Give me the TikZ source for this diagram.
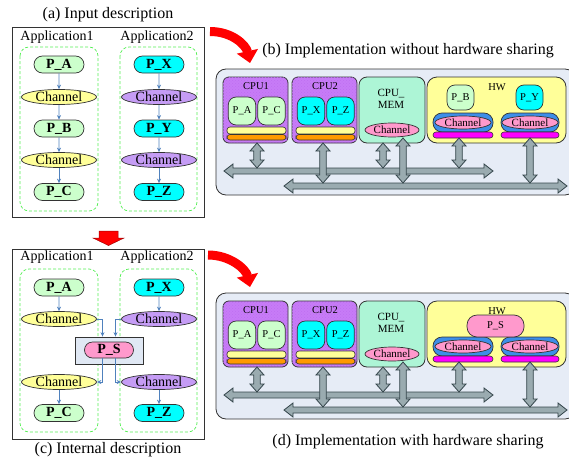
\documentclass[tikz,border=0pt]{standalone}
\usepackage{fontspec}
\setmainfont{Liberation Serif}
\usetikzlibrary{shapes.geometric,shapes.misc,arrows.meta,patterns}

\definecolor{edge}{HTML}{333333}
\definecolor{procG}{HTML}{CCFFCC}
\definecolor{procC}{HTML}{00FFFF}
\definecolor{chanY}{HTML}{FFFF99}
\definecolor{chanV}{HTML}{C59CF5}
\definecolor{chanP}{HTML}{FF99CC}
\definecolor{flowB}{HTML}{4F81BD}
\definecolor{appG}{HTML}{55EE55}
\definecolor{panelBg}{HTML}{E6ECF6}
\definecolor{psBg}{HTML}{E0E8F4}
\definecolor{cpuV}{HTML}{C77CF7}
\definecolor{cpuL}{HTML}{BF6EF2}
\definecolor{memG}{HTML}{ADF5D6}
\definecolor{hwY}{HTML}{FFFF99}
\definecolor{barY}{HTML}{FFFF99}
\definecolor{barO}{HTML}{FF9900}
\definecolor{barM}{HTML}{FF00FF}
\definecolor{ringB}{HTML}{3D8EE8}
\definecolor{busF}{HTML}{9AABB0}
\definecolor{busD}{HTML}{34454B}

\newcommand\setfs[1]{\fontsize{#1}{#1}\selectfont}

% horizontal double-headed bus: x-left, x-right, y
\newcommand\hbus[3]{\draw[bus] (#1,#3) -- (#1+9,#3-7) -- (#1+9,#3-3) -- (#2-9,#3-3) -- (#2-9,#3-7) -- (#2,#3)
  -- (#2-9,#3+7) -- (#2-9,#3+3) -- (#1+9,#3+3) -- (#1+9,#3+7) -- cycle;}
% vertical double-headed link: x, y-top, y-bottom
\newcommand\vbus[3]{\draw[bus] (#1,#2) -- (#1+7,#2+8) -- (#1+3.3,#2+8) -- (#1+3.3,#3-8) -- (#1+7,#3-8) -- (#1,#3)
  -- (#1-7,#3-8) -- (#1-3.3,#3-8) -- (#1-3.3,#2+8) -- (#1-7,#2+8) -- cycle;}

% channel in hardware: blue ring, pink channel, magenta bar
\newcommand\hwchan[3]{% name, x-centre, width
  \draw[ring] (#2-#3/2,113) rectangle (#2+#3/2,132);
  \node[smallchan] (#1) at (#2,122.5) {Channel};
  \draw[bar, fill=barM] (#2-#3/2,132) rectangle (#2+#3/2,138);}

% common platform: CPUs, memory, hardware block and buses
\newcommand\platform[1]{%
  \draw[board] (216,69) rectangle (575,195);
  % CPU1
  \draw[cpubox] (223,77) rectangle (288,143);
  \node[plabel] (#1-cpu1) at (256,86) {CPU1};
  \node[cell, fill=procG] (#1-pa) at (242,111) {P\_A};
  \node[cell, fill=procG] (#1-pc) at (271.5,111) {P\_C};
  \draw[bar, fill=barY] (227,127) rectangle (286,134);
  \draw[bar, fill=barO] (227,134.5) rectangle (286,140);
  % CPU2
  \draw[cpubox] (292,77) rectangle (357,143);
  \node[plabel] (#1-cpu2) at (325,86) {CPU2};
  \node[cell, fill=procC] (#1-px) at (311,111) {P\_X};
  \node[cell, fill=procC] (#1-pz) at (340.5,111) {P\_Z};
  \draw[bar, fill=barY] (296,127) rectangle (355,134);
  \draw[bar, fill=barO] (296,134.5) rectangle (355,140);
  % memory CPU
  \draw[membox] (359,77) rectangle (425,143);
  \node[plabel, align=center, font=\setfs{11}\linespread{1.1}\selectfont] (#1-mem) at (391,98.5) {CPU\_\\MEM};
  \node[smallchan, minimum width=54pt, minimum height=14pt] (#1-memch) at (392,130) {Channel};
  % hardware block
  \draw[hwbox] (427,77) rectangle (566,143);
  \node[plabel] (#1-hw) at (497,87) {HW};
  \hwchan{#1-ch1}{463}{60}
  \hwchan{#1-ch2}{530}{58}
  % buses and links
  \hbus{224}{493}{171}
  \hbus{284}{567}{186}
  \vbus{257}{143}{168}
  \vbus{323}{143}{183}
  \vbus{383}{143}{168}
  \vbus{403}{138}{183}
  \vbus{459}{138}{168}
  \vbus{530}{138}{183}
}

\begin{document}
\begin{tikzpicture}[x=1pt,y=-1pt,
  title/.style={font=\setfs{16}},
  applab/.style={font=\setfs{14}},
  proc/.style={rounded rectangle, draw=edge, line width=0.7pt, minimum width=50pt,
    minimum height=17pt, inner sep=0pt, font=\setfs{14}\bfseries},
  procA/.style={proc, fill=procG},
  procX/.style={proc, fill=procC},
  chan/.style={ellipse, draw=edge, line width=0.7pt, minimum width=75pt,
    minimum height=15pt, inner sep=0pt, font=\setfs{14}},
  chanA/.style={chan, fill=chanY},
  chanX/.style={chan, fill=chanV},
  flow/.style={draw=flowB, line width=0.8pt, -{Stealth[length=4.5pt,width=4pt]}},
  appbox/.style={draw=appG, dash pattern=on 3pt off 2pt, line width=0.7pt, rounded corners=9pt},
  panel/.style={draw=edge, line width=0.8pt},
  redarrow/.style={fill=red, draw=red!65!black, line width=0.5pt},
  bigbend/.style={draw=red, line width=9pt, -{Triangle[length=12pt,width=21pt]}},
  board/.style={fill=panelBg, draw=edge, line width=0.8pt, rounded corners=10pt},
  cpubox/.style={fill=cpuV, draw=edge, line width=0.8pt, rounded corners=6pt,
    postaction={pattern=crosshatch dots, pattern color=cpuL}},
  membox/.style={fill=memG, draw=edge, line width=0.8pt, rounded corners=8pt},
  hwbox/.style={fill=hwY, draw=edge, line width=0.8pt, rounded corners=10pt},
  plabel/.style={font=\setfs{10.5}},
  cell/.style={draw=edge, line width=0.7pt, rounded corners=8pt, minimum width=27.5pt,
    minimum height=28pt, inner sep=0pt, font=\setfs{10.5}},
  bar/.style={draw=edge, line width=0.6pt, rounded corners=3pt},
  ring/.style={fill=ringB, draw=edge, line width=0.7pt, rounded corners=9pt},
  smallchan/.style={ellipse, fill=chanP, draw=edge, line width=0.7pt, minimum width=56pt,
    minimum height=13pt, inner sep=0pt, font=\setfs{11}},
  bus/.style={fill=busF, draw=busD, line width=0.8pt, line join=miter}
]
\useasboundingbox (0,0) rectangle (569,460);
\clip (0,0) rectangle (569,460);

% ---------- (a) input description ----------
\node[title] (ttlA) at (108,15) {(a) Input description};
\draw[panel] (12,27) rectangle (204,217);
\draw[appbox] (20,47) rectangle (98,211);
\draw[appbox] (120,47) rectangle (197,211);
\node[applab] (a-app1) at (57,37) {Application1};
\node[applab] (a-app2) at (157,37) {Application2};
\node[procA] (a-pa) at (59,64.5) {P\_A};
\node[chanA] (a-c1) at (59,97) {Channel};
\node[procA] (a-pb) at (59,128.5) {P\_B};
\node[chanA] (a-c2) at (59,160) {Channel};
\node[procA] (a-pc) at (59,192) {P\_C};
\node[procX] (a-px) at (159,64.5) {P\_X};
\node[chanX] (a-c3) at (159,97) {Channel};
\node[procX] (a-py) at (159,128.5) {P\_Y};
\node[chanX] (a-c4) at (159,160) {Channel};
\node[procX] (a-pz) at (159,192) {P\_Z};
\draw[flow] (a-pa) -- (a-c1);
\draw[flow] (a-c1) -- (a-pb);
\draw[flow] (a-pb) -- (a-c2);
\draw[flow] (a-c2) -- (a-pc);
\draw[flow] (a-px) -- (a-c3);
\draw[flow] (a-c3) -- (a-py);
\draw[flow] (a-py) -- (a-c4);
\draw[flow] (a-c4) -- (a-pz);

% refinement arrow down
\draw[redarrow] (99,231) -- (118,231) -- (118,238) -- (124,238) -- (108.5,245.5) -- (93,238) -- (99,238) -- cycle;

% ---------- (c) internal description ----------
\draw[panel] (12,249) rectangle (204,439);
\draw[appbox] (20,269) rectangle (98,432);
\draw[appbox] (120,269) rectangle (197,432);
\node[applab] (c-app1) at (57,257) {Application1};
\node[applab] (c-app2) at (157,257) {Application2};
\node[procA] (c-pa) at (59,287.5) {P\_A};
\node[chanA] (c-c1) at (59,319) {Channel};
\node[chanA] (c-c2) at (59,382) {Channel};
\node[procA] (c-pc) at (59,413) {P\_C};
\node[procX] (c-px) at (159,287.5) {P\_X};
\node[chanX] (c-c3) at (159,319) {Channel};
\node[chanX] (c-c4) at (159,382) {Channel};
\node[procX] (c-pz) at (159,413) {P\_Z};
\node[draw=edge, fill=psBg, line width=0.8pt, minimum width=68pt, minimum height=27pt, inner sep=0pt]
  (c-psbox) at (109,350.5) {};
\node[proc, fill=chanP, minimum width=49pt, minimum height=16pt] (c-ps) at (109,350) {P\_S};
\draw[flow] (c-pa) -- (c-c1);
\draw[flow] (c-c2) -- (c-pc);
\draw[flow] (c-px) -- (c-c3);
\draw[flow] (c-c4) -- (c-pz);
\draw[flow] (c-c1.east) -| ([xshift=-6.5pt]c-psbox.north);
\draw[flow] (c-c3.west) -| ([xshift=6.5pt]c-psbox.north);
\draw[flow] ([xshift=-6.5pt]c-ps.south) |- (c-c2.east);
\draw[flow] ([xshift=6.5pt]c-ps.south) |- (c-c4.west);
\node[title] (ttlC) at (108,450) {(c) Internal description};

% ---------- curved arrows to implementations ----------
\coordinate (r1s) at (210,31.5);
\coordinate (r1e) at (250,63);
\draw[bigbend] (r1s) .. controls (232,31.5) and (246,45) .. (r1e);
\coordinate (r2s) at (208,255);
\coordinate (r2e) at (250,287);
\draw[bigbend] (r2s) .. controls (230,255) and (246,269) .. (r2e);

% ---------- (b) implementation without sharing ----------
\node[title] (ttlB) at (408,51) {(b) Implementation without hardware sharing};
\platform{b}
\node[cell, fill=procG, minimum width=27pt, minimum height=25pt] (b-pb) at (460.5,97.5) {P\_B};
\node[cell, fill=procC, minimum width=27pt, minimum height=25pt] (b-py) at (529.5,97.5) {P\_Y};

% ---------- (d) implementation with sharing ----------
\begin{scope}[shift={(0,224)}]
\platform{d}
\node[cell, fill=chanP, minimum width=57pt, minimum height=22pt, rounded corners=10pt] (d-ps) at (495.5,102) {P\_S};
\end{scope}
\node[title] (ttlD) at (408,442) {(d) Implementation with hardware sharing};

\end{tikzpicture}
\end{document}
